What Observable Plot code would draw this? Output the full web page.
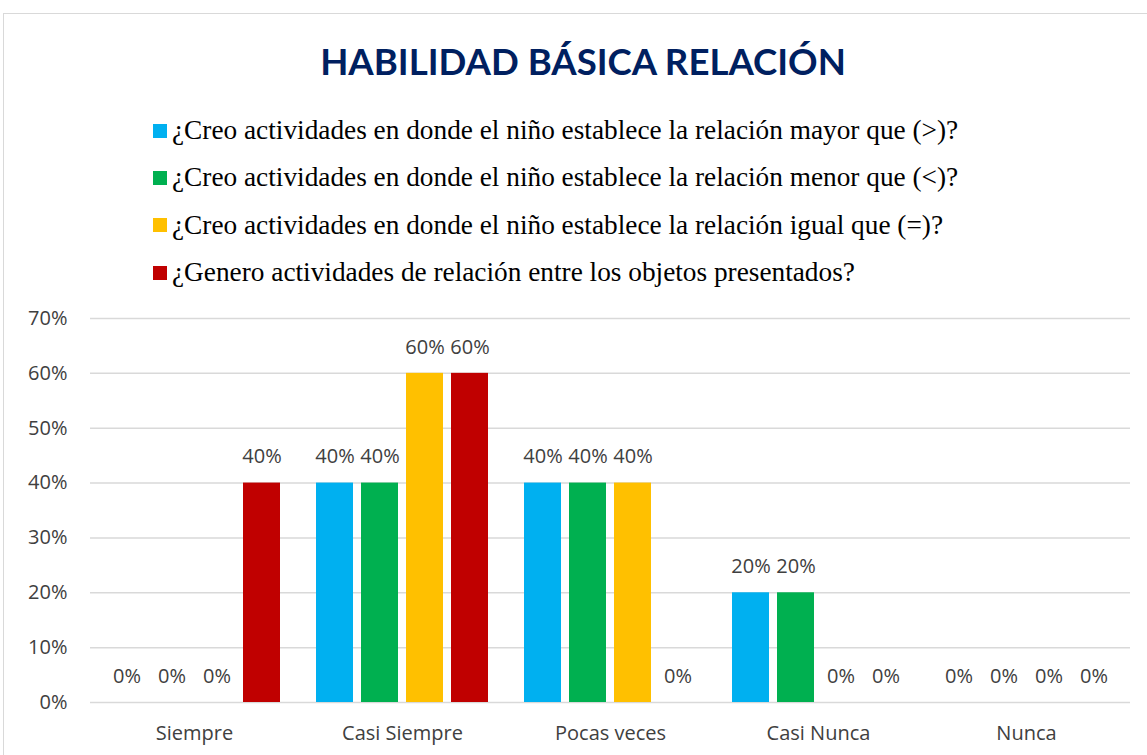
<!DOCTYPE html>
<html>
<head>
<meta charset="utf-8">
<script src="https://cdn.jsdelivr.net/npm/d3@7"></script>
<script src="https://cdn.jsdelivr.net/npm/@observablehq/plot@0.6"></script>
<style>
  html, body { margin: 0; padding: 0; background: #fff; width: 1147px; height: 755px; overflow: hidden; position: relative; }
  #frame { position: absolute; left: 3px; top: 13px; width: 1200px; height: 800px; border-left: 1.5px solid #d9d9d9; border-top: 1.5px solid #d9d9d9; box-sizing: border-box; }
  #title { position: absolute; left: 0; width: 1166px; top: 37px; text-align: center; font-family: Lato, sans-serif; font-weight: 700; font-size: 36.6px; color: #002060; line-height: 48px; }
  #legend { position: absolute; left: 153px; top: 107px; font-family: "Liberation Serif", "Times New Roman", serif; font-size: 27.3px; color: #000; }
  .row { height: 47.3px; display: flex; align-items: center; }
  .sw { width: 14px; height: 14px; margin-right: 5px; flex: none; }
  #chart { position: absolute; left: 0; top: 300px; }
</style>
</head>
<body>
<div id="frame"></div>
<div id="title">HABILIDAD BÁSICA RELACIÓN</div>
<div id="legend"></div>
<div id="chart"></div>
<script>
const categories = ["Siempre", "Casi Siempre", "Pocas veces", "Casi Nunca", "Nunca"];
const seriesNames = [
  "¿Creo actividades en donde el niño establece la relación mayor que (>)?",
  "¿Creo actividades en donde el niño establece la relación menor que (<)?",
  "¿Creo actividades en donde el niño establece la relación igual que (=)?",
  "¿Genero actividades de relación entre los objetos presentados?"
];
const seriesColors = ["#00B0F0", "#00B050", "#FFC000", "#C00000"];
const mayorQue = [0, 0.40, 0.40, 0.20, 0];
const menorQue = [0, 0.40, 0.40, 0.20, 0];
const igualQue = [0, 0.60, 0.40, 0, 0];
const generoRelacion = [0.40, 0.60, 0, 0, 0];
const yTicks = [0, 0.1, 0.2, 0.3, 0.4, 0.5, 0.6, 0.7];

const seriesValues = [mayorQue, menorQue, igualQue, generoRelacion];
const data = [];
categories.forEach((c, i) => {
  seriesNames.forEach((s, j) => {
    data.push({category: c, series: s, value: seriesValues[j][i]});
  });
});

// legend
const legend = document.getElementById("legend");
seriesNames.forEach((s, j) => {
  const row = document.createElement("div");
  row.className = "row";
  const sw = document.createElement("div");
  sw.className = "sw";
  sw.style.background = seriesColors[j];
  const t = document.createElement("span");
  t.textContent = s;
  row.appendChild(sw);
  row.appendChild(t);
  legend.appendChild(row);
});

const fmt = d3.format(".0%");
const chart = Plot.plot({
  width: 1147,
  height: 455,
  marginTop: 18,
  marginBottom: 53,
  marginLeft: 89,
  marginRight: 16,
  style: {fontFamily: "'Open Sans', sans-serif", fontSize: "20px", color: "#404040", background: "transparent"},
  fx: {domain: categories, padding: 0, axis: "bottom", tickSize: 0, tickPadding: 23, label: null},
  x: {domain: seriesNames, axis: null, paddingInner: 0.187, paddingOuter: 0.38},
  y: {domain: [0, 0.7], ticks: yTicks, tickFormat: fmt, tickSize: 0, tickPadding: 23, label: null},
  color: {domain: seriesNames, range: seriesColors},
  marks: [
    Plot.ruleY(yTicks, {stroke: "#d9d9d9", strokeWidth: 1.5, strokeOpacity: 1}),
    Plot.barY(data, {fx: "category", x: "series", y: "value", fill: "series"}),
    Plot.text(data, {fx: "category", x: "series", y: "value", text: d => fmt(d.value), dy: -26, fill: "#404040", fontSize: 20})
  ]
});
document.getElementById("chart").appendChild(chart);
</script>
</body>
</html>
